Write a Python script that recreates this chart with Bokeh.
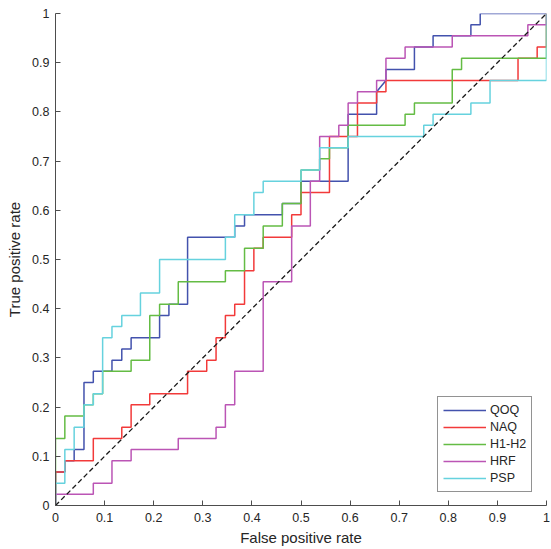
from bokeh.plotting import figure
from bokeh.models import FixedTicker, Legend, LegendItem, Range1d
from bokeh.embed import file_html
from bokeh.resources import INLINE

# ---- data (ROC step curves) ----
qoq_fpr = [0, 0, 0.019, 0.019, 0.038, 0.038, 0.058, 0.058, 0.077, 0.077, 0.115, 0.115, 0.135, 0.135, 0.154, 0.154,
           0.212, 0.212, 0.231, 0.231, 0.269, 0.269, 0.365, 0.365, 0.385, 0.385, 0.462, 0.462, 0.5, 0.5, 0.596, 0.596,
           0.654, 0.654, 0.673, 0.673, 0.731, 0.731, 0.769, 0.769, 0.846, 0.846, 0.865, 0.865, 1]
qoq_tpr = [0, 0.068, 0.068, 0.091, 0.091, 0.114, 0.114, 0.25, 0.25, 0.273, 0.273, 0.295, 0.295, 0.318, 0.318, 0.341,
           0.341, 0.386, 0.386, 0.409, 0.409, 0.545, 0.545, 0.568, 0.568, 0.591, 0.591, 0.614, 0.614, 0.659, 0.659, 0.795,
           0.795, 0.841, 0.864, 0.886, 0.886, 0.932, 0.932, 0.955, 0.955, 0.977, 0.977, 1, 1]

naq_fpr = [0, 0, 0.019, 0.019, 0.077, 0.077, 0.135, 0.135, 0.154, 0.154, 0.192, 0.192, 0.269, 0.269, 0.308, 0.308,
           0.327, 0.327, 0.346, 0.346, 0.365, 0.365, 0.385, 0.385, 0.404, 0.404, 0.423, 0.423, 0.481, 0.481, 0.5, 0.5,
           0.558, 0.558, 0.615, 0.615, 0.654, 0.654, 0.673, 0.673, 0.942, 0.942, 0.981, 0.981, 1, 1]
naq_tpr = [0, 0.068, 0.068, 0.091, 0.091, 0.136, 0.136, 0.159, 0.159, 0.205, 0.205, 0.227, 0.227, 0.273, 0.273, 0.295,
           0.295, 0.341, 0.341, 0.386, 0.386, 0.409, 0.409, 0.477, 0.477, 0.523, 0.523, 0.545, 0.545, 0.591, 0.591, 0.636,
           0.636, 0.75, 0.75, 0.818, 0.818, 0.841, 0.841, 0.864, 0.864, 0.909, 0.909, 0.932, 0.932, 1]

h1h2_fpr = [0, 0, 0.019, 0.019, 0.058, 0.058, 0.077, 0.077, 0.096, 0.096, 0.154, 0.154, 0.192, 0.192, 0.212, 0.212,
            0.25, 0.25, 0.346, 0.346, 0.385, 0.385, 0.423, 0.423, 0.462, 0.462, 0.5, 0.5, 0.538, 0.538, 0.558, 0.558,
            0.596, 0.596, 0.712, 0.712, 0.731, 0.731, 0.808, 0.808, 0.827, 0.827, 1, 1]
h1h2_tpr = [0, 0.136, 0.136, 0.182, 0.182, 0.205, 0.205, 0.227, 0.227, 0.273, 0.273, 0.295, 0.295, 0.386, 0.386, 0.409,
            0.409, 0.455, 0.455, 0.477, 0.477, 0.523, 0.523, 0.568, 0.568, 0.614, 0.614, 0.682, 0.682, 0.705, 0.705, 0.727,
            0.727, 0.773, 0.773, 0.795, 0.795, 0.818, 0.818, 0.886, 0.886, 0.909, 0.909, 1]

hrf_fpr = [0, 0, 0.077, 0.077, 0.115, 0.115, 0.154, 0.154, 0.25, 0.25, 0.327, 0.327, 0.346, 0.346, 0.365, 0.365,
           0.423, 0.423, 0.481, 0.481, 0.519, 0.519, 0.538, 0.538, 0.577, 0.577, 0.596, 0.596, 0.615, 0.615, 0.654, 0.654,
           0.673, 0.673, 0.712, 0.712, 0.808, 0.808, 0.962, 0.962, 1, 1]
hrf_tpr = [0, 0.023, 0.023, 0.045, 0.045, 0.091, 0.091, 0.114, 0.114, 0.136, 0.136, 0.159, 0.159, 0.205, 0.205, 0.273,
           0.273, 0.455, 0.455, 0.568, 0.568, 0.659, 0.659, 0.75, 0.75, 0.773, 0.773, 0.818, 0.818, 0.841, 0.841, 0.864,
           0.864, 0.909, 0.909, 0.932, 0.932, 0.955, 0.955, 0.977, 0.977, 1]

psp_fpr = [0, 0, 0.019, 0.019, 0.038, 0.038, 0.058, 0.058, 0.077, 0.077, 0.096, 0.096, 0.115, 0.115, 0.135, 0.135,
           0.173, 0.173, 0.212, 0.212, 0.346, 0.346, 0.365, 0.365, 0.404, 0.404, 0.423, 0.423, 0.5, 0.5, 0.538, 0.538,
           0.596, 0.596, 0.75, 0.75, 0.769, 0.769, 0.846, 0.846, 0.885, 0.885, 1, 1]
psp_tpr = [0, 0.045, 0.045, 0.114, 0.114, 0.159, 0.159, 0.205, 0.205, 0.227, 0.227, 0.341, 0.341, 0.364, 0.364, 0.386,
           0.386, 0.432, 0.432, 0.5, 0.5, 0.545, 0.545, 0.591, 0.591, 0.636, 0.636, 0.659, 0.659, 0.682, 0.682, 0.727,
           0.727, 0.75, 0.75, 0.773, 0.773, 0.795, 0.795, 0.818, 0.818, 0.864, 0.864, 1]

chance_x = [0, 1]
chance_y = [0, 1]

series_names = ["QOQ", "NAQ", "H1-H2", "HRF", "PSP"]
series_x = [qoq_fpr, naq_fpr, h1h2_fpr, hrf_fpr, psp_fpr]
series_y = [qoq_tpr, naq_tpr, h1h2_tpr, hrf_tpr, psp_tpr]
series_colors = ["#4352ad", "#f23a3a", "#64bc44", "#bb55b5", "#66d2de"]

tick_values = [0, 0.1, 0.2, 0.3, 0.4, 0.5, 0.6, 0.7, 0.8, 0.9, 1]
tick_labels = ["0", "0.1", "0.2", "0.3", "0.4", "0.5", "0.6", "0.7", "0.8", "0.9", "1"]

FONT = "Liberation Sans"
TXT = "#262626"

p = figure(width=551, height=549, output_backend="svg", toolbar_location=None,
           x_range=Range1d(0, 1), y_range=Range1d(0, 1),
           min_border_left=55, min_border_right=5, min_border_top=13, min_border_bottom=44)
p.outline_line_color = None
p.xgrid.visible = False
p.ygrid.visible = False
p.background_fill_color = "white"
p.border_fill_color = "white"

renderers = []
for xs, ys, c in zip(series_x, series_y, series_colors):
    r = p.line(xs, ys, line_color=c, line_width=1.5)
    renderers.append(r)

p.line(chance_x, chance_y, line_color="#1a1a1a", line_width=1.3, line_dash="5 3")

for ax in (p.xaxis[0], p.yaxis[0]):
    ax.ticker = FixedTicker(ticks=tick_values)
    ax.major_label_overrides = {v: s for v, s in zip(tick_values, tick_labels)}
    ax.minor_tick_line_color = None
    ax.major_tick_in = 5
    ax.major_tick_out = 0
    ax.axis_line_color = "#4d4d4d"
    ax.major_tick_line_color = "#4d4d4d"
    ax.major_label_text_font = FONT
    ax.major_label_text_font_size = "12.5px"
    ax.major_label_text_color = TXT
    ax.axis_label_text_font = FONT
    ax.axis_label_text_font_size = "15px"
    ax.axis_label_text_font_style = "normal"
    ax.axis_label_text_color = TXT

p.xaxis.axis_label = "False positive rate"
p.yaxis.axis_label = "True positive rate"
p.xaxis.major_label_standoff = 7
p.xaxis.axis_label_standoff = 4
p.yaxis.major_label_standoff = 6
p.yaxis.axis_label_standoff = 6

legend = Legend(items=[LegendItem(label=n, renderers=[r]) for n, r in zip(series_names, renderers)],
                location=(382, 13))
legend.border_line_color = "#262626"
legend.border_line_width = 1
legend.background_fill_color = "white"
legend.background_fill_alpha = 1
legend.label_text_font = FONT
legend.label_text_font_size = "12.5px"
legend.label_text_color = TXT
legend.glyph_width = 43
legend.glyph_height = 16
legend.label_height = 16
legend.label_standoff = 4
legend.spacing = 1
legend.padding = 5
legend.margin = 0
p.add_layout(legend)

open("out.html", "w").write(file_html(p, INLINE))
